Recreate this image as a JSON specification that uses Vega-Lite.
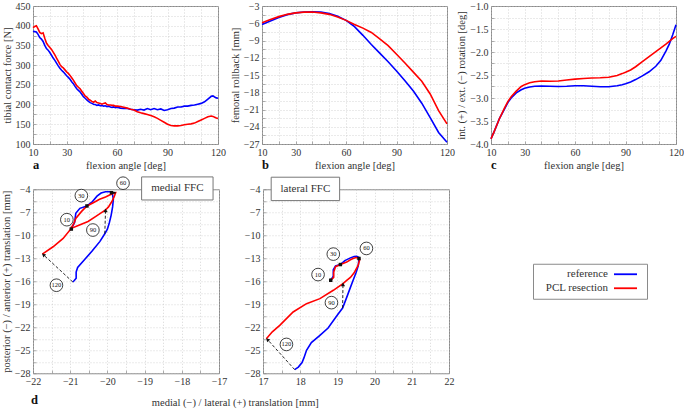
{
  "$schema": "https://vega.github.io/schema/vega-lite/v6.json",
  "padding": {"left": 0, "top": 0, "right": 0, "bottom": 0},
  "background": "white",
  "title": {"text": "d", "orient": "bottom", "anchor": "start", "frame": "group", "dx": -2, "offset": -14},
  "config": {
    "font": "Liberation Serif",
    "view": {"stroke": "#8a8a8a", "strokeWidth": 1},
    "axis": {"grid": true, "gridColor": "#c4c4c4", "gridDash": [1, 2], "gridWidth": 0.7, "domain": false, "ticks": true, "tickSize": -3, "tickColor": "#8a8a8a", "tickWidth": 0.7, "labelFont": "Liberation Serif", "labelFontSize": 10, "labelColor": "#333", "labelPadding": 6, "titleFont": "Liberation Serif", "titleFontSize": 10.5, "titleFontWeight": "normal", "titleColor": "#333", "titlePadding": 3, "labelOverlap": false, "labelFlush": false, "labelBound": false},
    "title": {"font": "Liberation Serif", "fontSize": 12.5, "fontWeight": "bold", "color": "#111"}
  },
  "datasets": {
    "force": [
      {"angle":10,"reference":386,"PCL resection":395},{"angle":11,"reference":385,"PCL resection":398},{"angle":12,"reference":384,"PCL resection":400},{"angle":13,"reference":378,"PCL resection":392},{"angle":14,"reference":370,"PCL resection":383},{"angle":15,"reference":366,"PCL resection":380},{"angle":16,"reference":360,"PCL resection":382},{"angle":17,"reference":350,"PCL resection":368},{"angle":18,"reference":342,"PCL resection":356},{"angle":19,"reference":338,"PCL resection":350},{"angle":20,"reference":332,"PCL resection":345},{"angle":21,"reference":325,"PCL resection":340},{"angle":22,"reference":318,"PCL resection":333},{"angle":23,"reference":312,"PCL resection":326},{"angle":24,"reference":305,"PCL resection":318},{"angle":25,"reference":298,"PCL resection":310},{"angle":26,"reference":292,"PCL resection":302},{"angle":27,"reference":287,"PCL resection":296},{"angle":28,"reference":283,"PCL resection":293},{"angle":29,"reference":278,"PCL resection":288},{"angle":30,"reference":273,"PCL resection":283},{"angle":31,"reference":269,"PCL resection":279},{"angle":32,"reference":264,"PCL resection":274},{"angle":33,"reference":258,"PCL resection":268},{"angle":34,"reference":253,"PCL resection":262},{"angle":35,"reference":246,"PCL resection":255},{"angle":36,"reference":240,"PCL resection":248},{"angle":37,"reference":236,"PCL resection":244},{"angle":38,"reference":232,"PCL resection":240},{"angle":39,"reference":226,"PCL resection":234},{"angle":40,"reference":220,"PCL resection":228},{"angle":41,"reference":216,"PCL resection":222},{"angle":42,"reference":212,"PCL resection":219},{"angle":43,"reference":208,"PCL resection":214},{"angle":44,"reference":205,"PCL resection":211},{"angle":45,"reference":203,"PCL resection":208},{"angle":46,"reference":201,"PCL resection":206},{"angle":47,"reference":200,"PCL resection":209},{"angle":48,"reference":198,"PCL resection":205},{"angle":49,"reference":199,"PCL resection":204},{"angle":50,"reference":197,"PCL resection":203},{"angle":51,"reference":198,"PCL resection":201},{"angle":52,"reference":196,"PCL resection":203},{"angle":53,"reference":197,"PCL resection":204},{"angle":54,"reference":195,"PCL resection":200},{"angle":55,"reference":196,"PCL resection":199},{"angle":56,"reference":194,"PCL resection":199},{"angle":57,"reference":193,"PCL resection":198},{"angle":58,"reference":194,"PCL resection":198},{"angle":59,"reference":192,"PCL resection":196},{"angle":60,"reference":193,"PCL resection":196},{"angle":62,"reference":191,"PCL resection":195},{"angle":64,"reference":190,"PCL resection":193},{"angle":66,"reference":190,"PCL resection":191},{"angle":68,"reference":188,"PCL resection":188},{"angle":70,"reference":187,"PCL resection":186},{"angle":72,"reference":186,"PCL resection":182},{"angle":74,"reference":188,"PCL resection":179},{"angle":76,"reference":186,"PCL resection":177},{"angle":78,"reference":190,"PCL resection":175},{"angle":80,"reference":187,"PCL resection":172},{"angle":82,"reference":190,"PCL resection":169},{"angle":84,"reference":187,"PCL resection":165},{"angle":86,"reference":189,"PCL resection":160},{"angle":88,"reference":185,"PCL resection":155},{"angle":90,"reference":187,"PCL resection":150},{"angle":92,"reference":190,"PCL resection":147},{"angle":94,"reference":191,"PCL resection":146},{"angle":96,"reference":194,"PCL resection":146},{"angle":98,"reference":194,"PCL resection":147},{"angle":100,"reference":196,"PCL resection":149},{"angle":102,"reference":196,"PCL resection":150},{"angle":104,"reference":198,"PCL resection":151},{"angle":106,"reference":199,"PCL resection":153},{"angle":108,"reference":201,"PCL resection":157},{"angle":110,"reference":203,"PCL resection":161},{"angle":112,"reference":207,"PCL resection":165},{"angle":114,"reference":214,"PCL resection":169},{"angle":116,"reference":221,"PCL resection":171},{"angle":117,"reference":222,"PCL resection":170},{"angle":118,"reference":219,"PCL resection":168},{"angle":119,"reference":217,"PCL resection":166},{"angle":120,"reference":216,"PCL resection":165}
    ],
    "rollback": [
      {"angle":10,"reference":-6.2,"PCL resection":-5.9},{"angle":15,"reference":-5.6,"PCL resection":-5.35},{"angle":20,"reference":-5.0,"PCL resection":-4.85},{"angle":25,"reference":-4.5,"PCL resection":-4.45},{"angle":30,"reference":-4.2,"PCL resection":-4.2},{"angle":35,"reference":-4.05,"PCL resection":-4.07},{"angle":40,"reference":-4.0,"PCL resection":-4.05},{"angle":45,"reference":-4.05,"PCL resection":-4.2},{"angle":50,"reference":-4.3,"PCL resection":-4.45},{"angle":55,"reference":-4.8,"PCL resection":-4.9},{"angle":60,"reference":-5.5,"PCL resection":-5.5},{"angle":65,"reference":-6.6,"PCL resection":-6.2},{"angle":70,"reference":-8.1,"PCL resection":-6.85},{"angle":75,"reference":-9.7,"PCL resection":-7.6},{"angle":80,"reference":-11.2,"PCL resection":-8.7},{"angle":85,"reference":-12.7,"PCL resection":-9.9},{"angle":90,"reference":-14.3,"PCL resection":-11.4},{"angle":95,"reference":-16.0,"PCL resection":-12.9},{"angle":100,"reference":-17.8,"PCL resection":-14.5},{"angle":105,"reference":-19.9,"PCL resection":-16.1},{"angle":110,"reference":-22.4,"PCL resection":-18.3},{"angle":115,"reference":-25.0,"PCL resection":-21.2},{"angle":120,"reference":-26.7,"PCL resection":-23.5}
    ],
    "rotation": [
      {"angle":10,"reference":-3.89,"PCL resection":-3.89},{"angle":12,"reference":-3.72,"PCL resection":-3.72},{"angle":15,"reference":-3.45,"PCL resection":-3.45},{"angle":18,"reference":-3.24,"PCL resection":-3.22},{"angle":20,"reference":-3.1,"PCL resection":-3.08},{"angle":22,"reference":-3.0,"PCL resection":-2.97},{"angle":25,"reference":-2.89,"PCL resection":-2.85},{"angle":28,"reference":-2.82,"PCL resection":-2.75},{"angle":30,"reference":-2.79,"PCL resection":-2.71},{"angle":33,"reference":-2.76,"PCL resection":-2.67},{"angle":36,"reference":-2.745,"PCL resection":-2.645},{"angle":40,"reference":-2.74,"PCL resection":-2.63},{"angle":45,"reference":-2.745,"PCL resection":-2.635},{"angle":50,"reference":-2.75,"PCL resection":-2.63},{"angle":55,"reference":-2.745,"PCL resection":-2.61},{"angle":60,"reference":-2.735,"PCL resection":-2.59},{"angle":65,"reference":-2.735,"PCL resection":-2.575},{"angle":70,"reference":-2.745,"PCL resection":-2.565},{"angle":75,"reference":-2.755,"PCL resection":-2.56},{"angle":80,"reference":-2.755,"PCL resection":-2.55},{"angle":85,"reference":-2.735,"PCL resection":-2.51},{"angle":88,"reference":-2.71,"PCL resection":-2.47},{"angle":90,"reference":-2.69,"PCL resection":-2.44},{"angle":93,"reference":-2.65,"PCL resection":-2.39},{"angle":96,"reference":-2.6,"PCL resection":-2.32},{"angle":100,"reference":-2.52,"PCL resection":-2.21},{"angle":104,"reference":-2.43,"PCL resection":-2.1},{"angle":108,"reference":-2.31,"PCL resection":-1.99},{"angle":111,"reference":-2.18,"PCL resection":-1.91},{"angle":114,"reference":-1.98,"PCL resection":-1.83},{"angle":116,"reference":-1.83,"PCL resection":-1.77},{"angle":118,"reference":-1.63,"PCL resection":-1.71},{"angle":120,"reference":-1.41,"PCL resection":-1.66}
    ],
    "medial": [
      {"series":"reference","angle":10,"x":-20.97,"y":-9.19},{"series":"reference","angle":15,"x":-20.88,"y":-8.3},{"series":"reference","angle":20,"x":-20.85,"y":-7.14},{"series":"reference","angle":25,"x":-20.74,"y":-6.49},{"series":"reference","angle":30,"x":-20.55,"y":-6.18},{"series":"reference","angle":35,"x":-20.4,"y":-5.6},{"series":"reference","angle":40,"x":-20.28,"y":-4.9},{"series":"reference","angle":45,"x":-20.17,"y":-4.5},{"series":"reference","angle":50,"x":-20.05,"y":-4.33},{"series":"reference","angle":55,"x":-19.92,"y":-4.33},{"series":"reference","angle":60,"x":-19.87,"y":-4.5},{"series":"reference","angle":65,"x":-19.84,"y":-5.3},{"series":"reference","angle":70,"x":-19.86,"y":-6.3},{"series":"reference","angle":75,"x":-19.9,"y":-7.4},{"series":"reference","angle":80,"x":-19.95,"y":-8.4},{"series":"reference","angle":85,"x":-20.0,"y":-9.2},{"series":"reference","angle":90,"x":-20.07,"y":-9.8},{"series":"reference","angle":95,"x":-20.2,"y":-10.8},{"series":"reference","angle":100,"x":-20.4,"y":-12.0},{"series":"reference","angle":105,"x":-20.6,"y":-13.1},{"series":"reference","angle":110,"x":-20.8,"y":-14.2},{"series":"reference","angle":113,"x":-20.84,"y":-14.8},{"series":"reference","angle":116,"x":-20.84,"y":-15.6},{"series":"reference","angle":118,"x":-20.89,"y":-15.9},{"series":"reference","angle":120,"x":-20.93,"y":-16.1},
      {"series":"PCL resection","angle":10,"x":-21.0,"y":-9.24},{"series":"PCL resection","angle":15,"x":-20.9,"y":-8.45},{"series":"PCL resection","angle":20,"x":-20.85,"y":-7.8},{"series":"PCL resection","angle":25,"x":-20.7,"y":-6.92},{"series":"PCL resection","angle":30,"x":-20.55,"y":-6.18},{"series":"PCL resection","angle":35,"x":-20.38,"y":-5.75},{"series":"PCL resection","angle":40,"x":-20.21,"y":-5.31},{"series":"PCL resection","angle":45,"x":-20.05,"y":-5.0},{"series":"PCL resection","angle":50,"x":-19.94,"y":-4.74},{"series":"PCL resection","angle":55,"x":-19.83,"y":-4.5},{"series":"PCL resection","angle":60,"x":-19.78,"y":-4.45},{"series":"PCL resection","angle":65,"x":-19.82,"y":-5.0},{"series":"PCL resection","angle":70,"x":-19.88,"y":-5.6},{"series":"PCL resection","angle":80,"x":-19.97,"y":-6.3},{"series":"PCL resection","angle":90,"x":-20.05,"y":-6.7},{"series":"PCL resection","angle":95,"x":-20.3,"y":-7.5},{"series":"PCL resection","angle":100,"x":-20.52,"y":-8.2},{"series":"PCL resection","angle":103,"x":-20.75,"y":-8.67},{"series":"PCL resection","angle":106,"x":-20.97,"y":-9.1},{"series":"PCL resection","angle":110,"x":-21.19,"y":-10.41},{"series":"PCL resection","angle":115,"x":-21.46,"y":-11.5},{"series":"PCL resection","angle":120,"x":-21.75,"y":-12.46}
    ],
    "lateral": [
      {"series":"reference","angle":10,"x":18.82,"y":-15.87},{"series":"reference","angle":15,"x":18.89,"y":-15.34},{"series":"reference","angle":20,"x":18.89,"y":-14.5},{"series":"reference","angle":25,"x":18.95,"y":-14.0},{"series":"reference","angle":30,"x":19.08,"y":-13.82},{"series":"reference","angle":35,"x":19.2,"y":-13.3},{"series":"reference","angle":40,"x":19.35,"y":-12.95},{"series":"reference","angle":45,"x":19.45,"y":-12.78},{"series":"reference","angle":50,"x":19.52,"y":-12.75},{"series":"reference","angle":55,"x":19.58,"y":-12.9},{"series":"reference","angle":60,"x":19.58,"y":-13.03},{"series":"reference","angle":65,"x":19.56,"y":-14.0},{"series":"reference","angle":70,"x":19.5,"y":-14.9},{"series":"reference","angle":75,"x":19.42,"y":-15.9},{"series":"reference","angle":80,"x":19.35,"y":-16.8},{"series":"reference","angle":85,"x":19.25,"y":-18.1},{"series":"reference","angle":90,"x":19.14,"y":-19.5},{"series":"reference","angle":95,"x":19.0,"y":-20.4},{"series":"reference","angle":100,"x":18.75,"y":-22.1},{"series":"reference","angle":103,"x":18.53,"y":-23.07},{"series":"reference","angle":106,"x":18.3,"y":-24.0},{"series":"reference","angle":109,"x":18.17,"y":-25.0},{"series":"reference","angle":112,"x":18.1,"y":-26.0},{"series":"reference","angle":115,"x":18.05,"y":-26.6},{"series":"reference","angle":118,"x":17.95,"y":-27.2},{"series":"reference","angle":120,"x":17.85,"y":-27.52},
      {"series":"PCL resection","angle":10,"x":18.82,"y":-15.87},{"series":"PCL resection","angle":15,"x":18.9,"y":-15.5},{"series":"PCL resection","angle":20,"x":18.9,"y":-14.8},{"series":"PCL resection","angle":25,"x":18.95,"y":-14.1},{"series":"PCL resection","angle":30,"x":19.08,"y":-13.82},{"series":"PCL resection","angle":35,"x":19.25,"y":-13.5},{"series":"PCL resection","angle":40,"x":19.35,"y":-13.2},{"series":"PCL resection","angle":45,"x":19.42,"y":-13.03},{"series":"PCL resection","angle":50,"x":19.5,"y":-12.9},{"series":"PCL resection","angle":55,"x":19.58,"y":-12.95},{"series":"PCL resection","angle":60,"x":19.6,"y":-13.16},{"series":"PCL resection","angle":65,"x":19.56,"y":-13.9},{"series":"PCL resection","angle":70,"x":19.45,"y":-14.9},{"series":"PCL resection","angle":75,"x":19.35,"y":-15.5},{"series":"PCL resection","angle":80,"x":19.25,"y":-15.9},{"series":"PCL resection","angle":90,"x":19.15,"y":-16.3},{"series":"PCL resection","angle":95,"x":18.89,"y":-17.18},{"series":"PCL resection","angle":100,"x":18.53,"y":-18.27},{"series":"PCL resection","angle":103,"x":18.17,"y":-18.92},{"series":"PCL resection","angle":106,"x":17.81,"y":-20.01},{"series":"PCL resection","angle":110,"x":17.45,"y":-21.76},{"series":"PCL resection","angle":115,"x":17.25,"y":-22.6},{"series":"PCL resection","angle":120,"x":17.09,"y":-23.5}
    ],
    "medialArrows": [
      {"angle":10,"x":-20.97,"y":-9.19,"x2":-21.0,"y2":-9.24},{"angle":30,"x":-20.55,"y":-6.18,"x2":-20.55,"y2":-6.18},{"angle":60,"x":-19.89,"y":-4.45,"x2":-19.78,"y2":-4.45},{"angle":90,"x":-20.07,"y":-9.8,"x2":-20.05,"y2":-6.75},{"angle":120,"x":-20.93,"y":-16.1,"x2":-21.72,"y2":-12.55}
    ],
    "medialHeads": [{"angle":90,"x":-20.05,"y":-6.75},{"angle":120,"x":-21.72,"y":-12.55}],
    "lateralArrows": [
      {"angle":10,"x":18.82,"y":-15.87,"x2":18.8,"y2":-15.7},{"angle":30,"x":19.08,"y":-13.82,"x2":19.08,"y2":-13.82},{"angle":60,"x":19.58,"y":-13.03,"x2":19.6,"y2":-13.16},{"angle":90,"x":19.14,"y":-19.5,"x2":19.15,"y2":-16.4},{"angle":120,"x":17.85,"y":-27.52,"x2":17.12,"y2":-23.6}
    ],
    "lateralHeads": [{"angle":90,"x":19.15,"y":-16.4},{"angle":120,"x":17.12,"y":-23.6}],
    "medialLabels": [
      {"angle":10,"x":-21.09,"y":-7.97},{"angle":30,"x":-20.7,"y":-4.83},{"angle":60,"x":-19.58,"y":-3.21},{"angle":90,"x":-20.39,"y":-9.32},{"angle":120,"x":-21.37,"y":-16.52}
    ],
    "lateralLabels": [
      {"angle":10,"x":18.48,"y":-15.13},{"angle":30,"x":18.89,"y":-12.46},{"angle":60,"x":19.78,"y":-11.72},{"angle":90,"x":18.84,"y":-18.79},{"angle":120,"x":17.63,"y":-24.24}
    ],
    "medialBox": [{"x":-19.08,"x2":-17.16,"y":-2.39,"y2":-5.4}],
    "medialBoxLabel": [{"label":"medial FFC","x":-18.12,"y":-3.9}],
    "lateralBox": [{"x":17.22,"x2":19.06,"y":-2.43,"y2":-5.48}],
    "lateralBoxLabel": [{"label":"lateral FFC","x":18.14,"y":-3.95}]
  },
  "spacing": 2,
  "vconcat": [
    {
      "spacing": 44,
      "bounds": "flush",
      "hconcat": [
        {
          "width": 185, "height": 138,
          "title": {"text": "a", "orient": "bottom", "anchor": "start", "frame": "group", "offset": -12},
          "data": {"name": "force"},
          "transform": [{"fold": ["reference", "PCL resection"], "as": ["series", "value"]}],
          "mark": {"type": "line", "strokeWidth": 1.6},
          "encoding": {
            "x": {"field": "angle", "type": "quantitative", "scale": {"domain": [10, 120], "nice": false, "zero": false}, "axis": {"title": "flexion angle [deg]", "labelOverlap": false, "values": [10,20,30,40,50,60,70,80,90,100,110,120], "labelExpr": "indexof([10,30,60,90,120], datum.value) >= 0 ? datum.label : ''"}},
            "y": {"field": "value", "type": "quantitative", "scale": {"domain": [100, 450], "nice": false, "zero": false}, "axis": {"title": "tibial contact force [N]", "labelOverlap": false, "values": [100,125,150,175,200,225,250,275,300,325,350,375,400,425,450], "labelExpr": "datum.value % 50 == 0 ? datum.label : ''"}},
            "color": {"field": "series", "type": "nominal", "scale": {"domain": ["reference", "PCL resection"], "range": ["#0000ff", "#ff0000"]}, "legend": null}
          }
        },
        {
          "width": 185, "height": 138,
          "title": {"text": "b", "orient": "bottom", "anchor": "start", "frame": "group", "offset": -12},
          "data": {"name": "rollback"},
          "transform": [{"fold": ["reference", "PCL resection"], "as": ["series", "value"]}],
          "mark": {"type": "line", "strokeWidth": 1.6},
          "encoding": {
            "x": {"field": "angle", "type": "quantitative", "scale": {"domain": [10, 120], "nice": false, "zero": false}, "axis": {"title": "flexion angle [deg]", "labelOverlap": false, "values": [10,20,30,40,50,60,70,80,90,100,110,120], "labelExpr": "indexof([10,30,60,90,120], datum.value) >= 0 ? datum.label : ''"}},
            "y": {"field": "value", "type": "quantitative", "scale": {"domain": [-27, -3], "nice": false, "zero": false}, "axis": {"title": "femoral rollback [mm]", "labelOverlap": false, "values": [-27,-25.5,-24,-22.5,-21,-19.5,-18,-16.5,-15,-13.5,-12,-10.5,-9,-7.5,-6,-4.5,-3], "labelExpr": "datum.value % 3 == 0 ? datum.label : ''"}},
            "color": {"field": "series", "type": "nominal", "scale": {"domain": ["reference", "PCL resection"], "range": ["#0000ff", "#ff0000"]}, "legend": null}
          }
        },
        {
          "width": 185, "height": 138,
          "title": {"text": "c", "orient": "bottom", "anchor": "start", "frame": "group", "offset": -12},
          "data": {"name": "rotation"},
          "transform": [{"fold": ["reference", "PCL resection"], "as": ["series", "value"]}],
          "mark": {"type": "line", "strokeWidth": 1.6},
          "encoding": {
            "x": {"field": "angle", "type": "quantitative", "scale": {"domain": [10, 120], "nice": false, "zero": false}, "axis": {"title": "flexion angle [deg]", "labelOverlap": false, "values": [10,20,30,40,50,60,70,80,90,100,110,120], "labelExpr": "indexof([10,30,60,90,120], datum.value) >= 0 ? datum.label : ''"}},
            "y": {"field": "value", "type": "quantitative", "scale": {"domain": [-4, -1], "nice": false, "zero": false}, "axis": {"title": "int. (+) / ext. (−) rotation [deg]", "labelOverlap": false, "format": ".1f", "values": [-4,-3.75,-3.5,-3.25,-3,-2.75,-2.5,-2.25,-2,-1.75,-1.5,-1.25,-1], "labelExpr": "abs(datum.value * 2 - round(datum.value * 2)) < 0.001 ? datum.label : ''"}},
            "color": {"field": "series", "type": "nominal", "scale": {"domain": ["reference", "PCL resection"], "range": ["#0000ff", "#ff0000"]}, "legend": null}
          }
        }
      ]
    },
    {
      "spacing": 77,
      "center": true,
      "title": {"text": "medial (−) / lateral (+) translation [mm]", "orient": "bottom", "anchor": "start", "frame": "bounds", "dx": 151, "offset": 11, "fontWeight": "normal", "fontSize": 10.5, "color": "#333"},
      "hconcat": [
        {
          "spacing": 44,
          "bounds": "flush",
          "hconcat": [
            {
              "width": 186, "height": 184,
              "encoding": {
                "x": {"field": "x", "type": "quantitative", "scale": {"domain": [-22, -17], "nice": false, "zero": false}, "axis": {"title": null, "format": ".0f", "labelOverlap": false, "values": [-22,-21.5,-21,-20.5,-20,-19.5,-19,-18.5,-18,-17.5,-17], "labelExpr": "datum.value % 1 == 0 ? datum.label : ''"}},
                "y": {"field": "y", "type": "quantitative", "scale": {"domain": [-28, -4], "nice": false, "zero": false}, "axis": {"title": "posterior (−) / anterior (+) translation [mm]", "format": ".0f", "labelOverlap": false, "values": [-28,-26.5,-25,-23.5,-22,-20.5,-19,-17.5,-16,-14.5,-13,-11.5,-10,-8.5,-7,-5.5,-4], "labelExpr": "(datum.value + 28) % 3 == 0 ? datum.label : ''"}}
              },
              "layer": [
                {
                  "data": {"name": "medial"},
                  "mark": {"type": "line", "strokeWidth": 1.6},
                  "encoding": {
                    "color": {"field": "series", "type": "nominal", "scale": {"domain": ["reference", "PCL resection"], "range": ["#0000ff", "#ff0000"]}, "legend": null},
                    "order": {"field": "angle", "type": "quantitative"}
                  }
                },
                {
                  "data": {"name": "medialArrows"},
                  "transform": [{"filter": "datum.angle >= 90"}],
                  "mark": {"type": "rule", "color": "#111", "strokeWidth": 0.9, "strokeDash": [3, 2]},
                  "encoding": {"x2": {"field": "x2"}, "y2": {"field": "y2"}}
                },
                {
                  "data": {"name": "medialArrows"},
                  "transform": [{"filter": "datum.angle < 90"}],
                  "mark": {"type": "rule", "color": "#111", "strokeWidth": 1.8},
                  "encoding": {"x2": {"field": "x2"}, "y2": {"field": "y2"}}
                },
                {
                  "data": {"name": "medialArrows"},
                  "transform": [{"filter": "datum.angle < 90"}],
                  "mark": {"type": "point", "shape": "square", "filled": true, "color": "#111", "size": 12, "opacity": 1}
                },
                {
                  "data": {"name": "medialHeads"},
                  "transform": [{"filter": "datum.angle == 90"}],
                  "mark": {"type": "point", "shape": "triangle-up", "filled": true, "color": "#111", "size": 18, "opacity": 1, "angle": 0}
                },
                {
                  "data": {"name": "medialHeads"},
                  "transform": [{"filter": "datum.angle == 120"}],
                  "mark": {"type": "point", "shape": "triangle-up", "filled": true, "color": "#111", "size": 18, "opacity": 1, "angle": -48}
                },
                {
                  "data": {"name": "medialLabels"},
                  "mark": {"type": "point", "shape": "circle", "fill": "white", "stroke": "#111", "strokeWidth": 0.8, "size": 160, "opacity": 1, "fillOpacity": 1}
                },
                {
                  "data": {"name": "medialLabels"},
                  "mark": {"type": "text", "fontSize": 6.5, "color": "#111", "align": "center", "baseline": "middle"},
                  "encoding": {"text": {"field": "angle", "type": "quantitative"}}
                },
                {
                  "data": {"name": "medialBox"},
                  "mark": {"type": "rect", "fill": "white", "stroke": "#777", "strokeWidth": 1},
                  "encoding": {"x2": {"field": "x2"}, "y2": {"field": "y2"}}
                },
                {
                  "data": {"name": "medialBoxLabel"},
                  "mark": {"type": "text", "fontSize": 11, "color": "#333", "align": "center", "baseline": "middle"},
                  "encoding": {"text": {"field": "label"}}
                }
              ]
            },
            {
              "width": 186, "height": 184,
              "encoding": {
                "x": {"field": "x", "type": "quantitative", "scale": {"domain": [17, 22], "nice": false, "zero": false}, "axis": {"title": null, "format": ".0f", "labelOverlap": false, "values": [17,17.5,18,18.5,19,19.5,20,20.5,21,21.5,22], "labelExpr": "datum.value % 1 == 0 ? datum.label : ''"}},
                "y": {"field": "y", "type": "quantitative", "scale": {"domain": [-28, -4], "nice": false, "zero": false}, "axis": {"title": null, "format": ".0f", "labelOverlap": false, "values": [-28,-26.5,-25,-23.5,-22,-20.5,-19,-17.5,-16,-14.5,-13,-11.5,-10,-8.5,-7,-5.5,-4], "labelExpr": "(datum.value + 28) % 3 == 0 ? datum.label : ''"}}
              },
              "layer": [
                {
                  "data": {"name": "lateral"},
                  "mark": {"type": "line", "strokeWidth": 1.6},
                  "encoding": {
                    "color": {"field": "series", "type": "nominal", "scale": {"domain": ["reference", "PCL resection"], "range": ["#0000ff", "#ff0000"]}, "legend": null},
                    "order": {"field": "angle", "type": "quantitative"}
                  }
                },
                {
                  "data": {"name": "lateralArrows"},
                  "transform": [{"filter": "datum.angle >= 90"}],
                  "mark": {"type": "rule", "color": "#111", "strokeWidth": 0.9, "strokeDash": [3, 2]},
                  "encoding": {"x2": {"field": "x2"}, "y2": {"field": "y2"}}
                },
                {
                  "data": {"name": "lateralArrows"},
                  "transform": [{"filter": "datum.angle < 90"}],
                  "mark": {"type": "rule", "color": "#111", "strokeWidth": 1.8},
                  "encoding": {"x2": {"field": "x2"}, "y2": {"field": "y2"}}
                },
                {
                  "data": {"name": "lateralArrows"},
                  "transform": [{"filter": "datum.angle < 90"}],
                  "mark": {"type": "point", "shape": "square", "filled": true, "color": "#111", "size": 12, "opacity": 1}
                },
                {
                  "data": {"name": "lateralHeads"},
                  "transform": [{"filter": "datum.angle == 90"}],
                  "mark": {"type": "point", "shape": "triangle-up", "filled": true, "color": "#111", "size": 18, "opacity": 1, "angle": 0}
                },
                {
                  "data": {"name": "lateralHeads"},
                  "transform": [{"filter": "datum.angle == 120"}],
                  "mark": {"type": "point", "shape": "triangle-up", "filled": true, "color": "#111", "size": 18, "opacity": 1, "angle": -43}
                },
                {
                  "data": {"name": "lateralLabels"},
                  "mark": {"type": "point", "shape": "circle", "fill": "white", "stroke": "#111", "strokeWidth": 0.8, "size": 160, "opacity": 1, "fillOpacity": 1}
                },
                {
                  "data": {"name": "lateralLabels"},
                  "mark": {"type": "text", "fontSize": 6.5, "color": "#111", "align": "center", "baseline": "middle"},
                  "encoding": {"text": {"field": "angle", "type": "quantitative"}}
                },
                {
                  "data": {"name": "lateralBox"},
                  "mark": {"type": "rect", "fill": "white", "stroke": "#777", "strokeWidth": 1},
                  "encoding": {"x2": {"field": "x2"}, "y2": {"field": "y2"}}
                },
                {
                  "data": {"name": "lateralBoxLabel"},
                  "mark": {"type": "text", "fontSize": 11, "color": "#333", "align": "center", "baseline": "middle"},
                  "encoding": {"text": {"field": "label"}}
                }
              ]
            }
          ]
        },
        {
          "width": 114, "height": 35,
          "title": {"text": " ", "orient": "bottom", "offset": 3, "fontSize": 10},
          "data": {"values": [{"series": "reference"}, {"series": "PCL resection"}]},
          "layer": [
            {
              "mark": {"type": "text", "align": "right", "baseline": "middle", "fontSize": 11, "color": "#333"},
              "encoding": {
                "x": {"datum": 75, "type": "quantitative", "scale": {"domain": [0, 114], "nice": false, "zero": false}, "axis": null},
                "y": {"field": "series", "type": "nominal", "scale": {"type": "point", "domain": ["reference", "PCL resection"], "padding": 0.75}, "axis": null},
                "text": {"field": "series"}
              }
            },
            {
              "mark": {"type": "rule", "strokeWidth": 1.8},
              "encoding": {
                "x": {"datum": 81, "type": "quantitative"},
                "x2": {"datum": 104},
                "y": {"field": "series", "type": "nominal"},
                "color": {"field": "series", "type": "nominal", "scale": {"domain": ["reference", "PCL resection"], "range": ["#0000ff", "#ff0000"]}, "legend": null}
              }
            }
          ]
        }
      ]
    }
  ]
}
